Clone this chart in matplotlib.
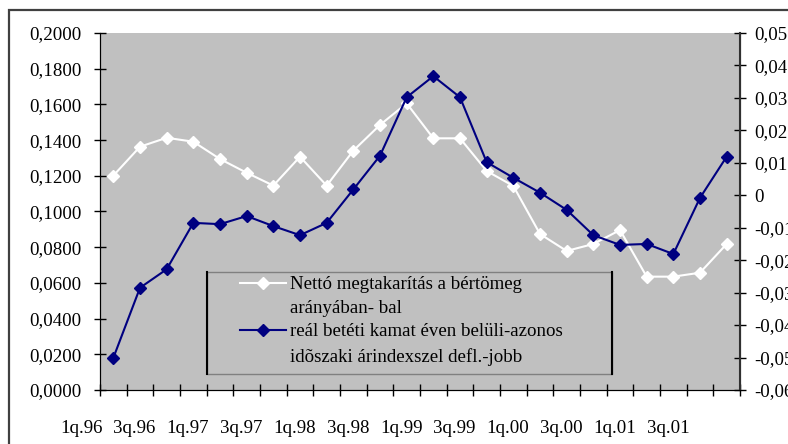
import numpy as np
import matplotlib.pyplot as plt
from matplotlib.patches import Rectangle
from matplotlib.lines import Line2D

plt.rcParams['font.family'] = ['Liberation Serif', 'DejaVu Serif']

# quarterly data 1q.96 .. 4q.01
netto = [0.1201, 0.1363, 0.1413, 0.1391, 0.1294, 0.1217, 0.1145, 0.1307,
         0.1145, 0.1341, 0.1485, 0.1606, 0.1410, 0.1410, 0.1227, 0.1143,
         0.0874, 0.0779, 0.0818, 0.0896, 0.0635, 0.0635, 0.0657, 0.0818]
real_kamat = [-0.0501, -0.0285, -0.0228, -0.0085, -0.0089, -0.0064, -0.0095, -0.0123,
              -0.0085, 0.0018, 0.0122, 0.0302, 0.0367, 0.0302, 0.0102, 0.0054,
              0.0008, -0.0045, -0.0123, -0.0153, -0.0150, -0.0181, -0.0008, 0.0119]
xlabels = ['1q.96', '3q.96', '1q.97', '3q.97', '1q.98', '3q.98',
           '1q.99', '3q.99', '1q.00', '3q.00', '1q.01', '3q.01']
left_ticks = np.arange(0, 0.2001, 0.02)
right_ticks = np.arange(-0.06, 0.0501, 0.01)
leg1 = 'Nettó megtakarítás a bértömeg\narányában- bal'
leg2 = 'reál betéti kamat éven belüli-azonos\nidõszaki árindexszel defl.-jobb'
FS = 13.6

W, H = 788, 444
def fx(x):
    return x / W
def fy(y):
    return 1 - y / H

fig = plt.figure(figsize=(7.88, 4.44), dpi=100)
fig.patch.set_facecolor('white')
fig.patches.append(Rectangle((fx(9), -0.1), 1.2, fy(10) + 0.1, transform=fig.transFigure,
                             fill=False, edgecolor='#404040', linewidth=1.6))

ax = fig.add_axes([fx(100), fy(390), fx(740) - fx(100), fy(33) - fy(390)])
ax.set_facecolor('#c0c0c0')
ax2 = ax.twinx()

x = np.arange(len(netto))
ax.plot(x, netto, color='white', lw=1.5, marker='D', ms=6.5, mec='white', mfc='white', clip_on=False, zorder=3)
ax2.plot(x, real_kamat, color='#000080', lw=1.5, marker='D', ms=6.5, mec='#000080', mfc='#000080', clip_on=False, zorder=3)

ax.set_xlim(-0.5, len(netto) - 0.5)
ax.set_ylim(0, 0.2)
ax2.set_ylim(-0.06, 0.05)

ax.set_yticks(left_ticks)
ax.set_yticklabels([('%.4f' % v).replace('.', ',') for v in left_ticks])
ax2.set_yticks(right_ticks)
rl = []
for v in right_ticks:
    s = '%.2f' % v
    if abs(v) < 1e-9:
        s = '0'
    rl.append(s.replace('.', ','))
ax2.set_yticklabels(rl)

ax.set_xticks(np.arange(-0.5, len(netto), 1.0))
ax.set_xticklabels([])
for i, lab in enumerate(xlabels):
    ax.text(-1.2 + 2 * i, -0.108, lab, transform=ax.get_xaxis_transform(),
            ha='center', va='center', fontsize=FS)

for a in (ax, ax2):
    a.tick_params(direction='inout', length=9, width=1, labelsize=FS, color='black')
    a.spines['top'].set_visible(False)
    for s in ('left', 'right', 'bottom'):
        a.spines[s].set_color('black')
ax.tick_params(axis='y', pad=9)
ax2.tick_params(axis='y', pad=6)
ax2.spines['right'].set_color('#303030')
ax2.spines['right'].set_linewidth(1.5)

# legend box drawn by hand
fig.patches.append(Rectangle((fx(207), fy(374)), fx(612) - fx(207), fy(272) - fy(374),
                             transform=fig.transFigure, facecolor='#c0c0c0',
                             edgecolor='#808080', linewidth=1, zorder=5))
for xx in (207, 612):
    fig.lines.append(Line2D([fx(xx), fx(xx)], [fy(374), fy(272)], transform=fig.transFigure,
                            color='black', lw=1.5, zorder=6))
fig.lines.append(Line2D([fx(240), fx(286)], [fy(283), fy(283)], transform=fig.transFigure,
                        color='white', lw=1.5, zorder=6))
fig.lines.append(Line2D([fx(263)], [fy(283)], transform=fig.transFigure, marker='D', ms=6.5,
                        color='white', zorder=7))
fig.lines.append(Line2D([fx(240), fx(286)], [fy(330), fy(330)], transform=fig.transFigure,
                        color='#000080', lw=1.5, zorder=6))
fig.lines.append(Line2D([fx(263)], [fy(330)], transform=fig.transFigure, marker='D', ms=6.5,
                        color='#000080', zorder=7))
fig.text(fx(290), fy(283 - 7), leg1, ha='left', va='top', fontsize=FS, linespacing=1.55, zorder=8)
fig.text(fx(290), fy(330 - 7), leg2, ha='left', va='top', fontsize=FS, linespacing=1.55, zorder=8)

fig.savefig('out.png', dpi=100)
